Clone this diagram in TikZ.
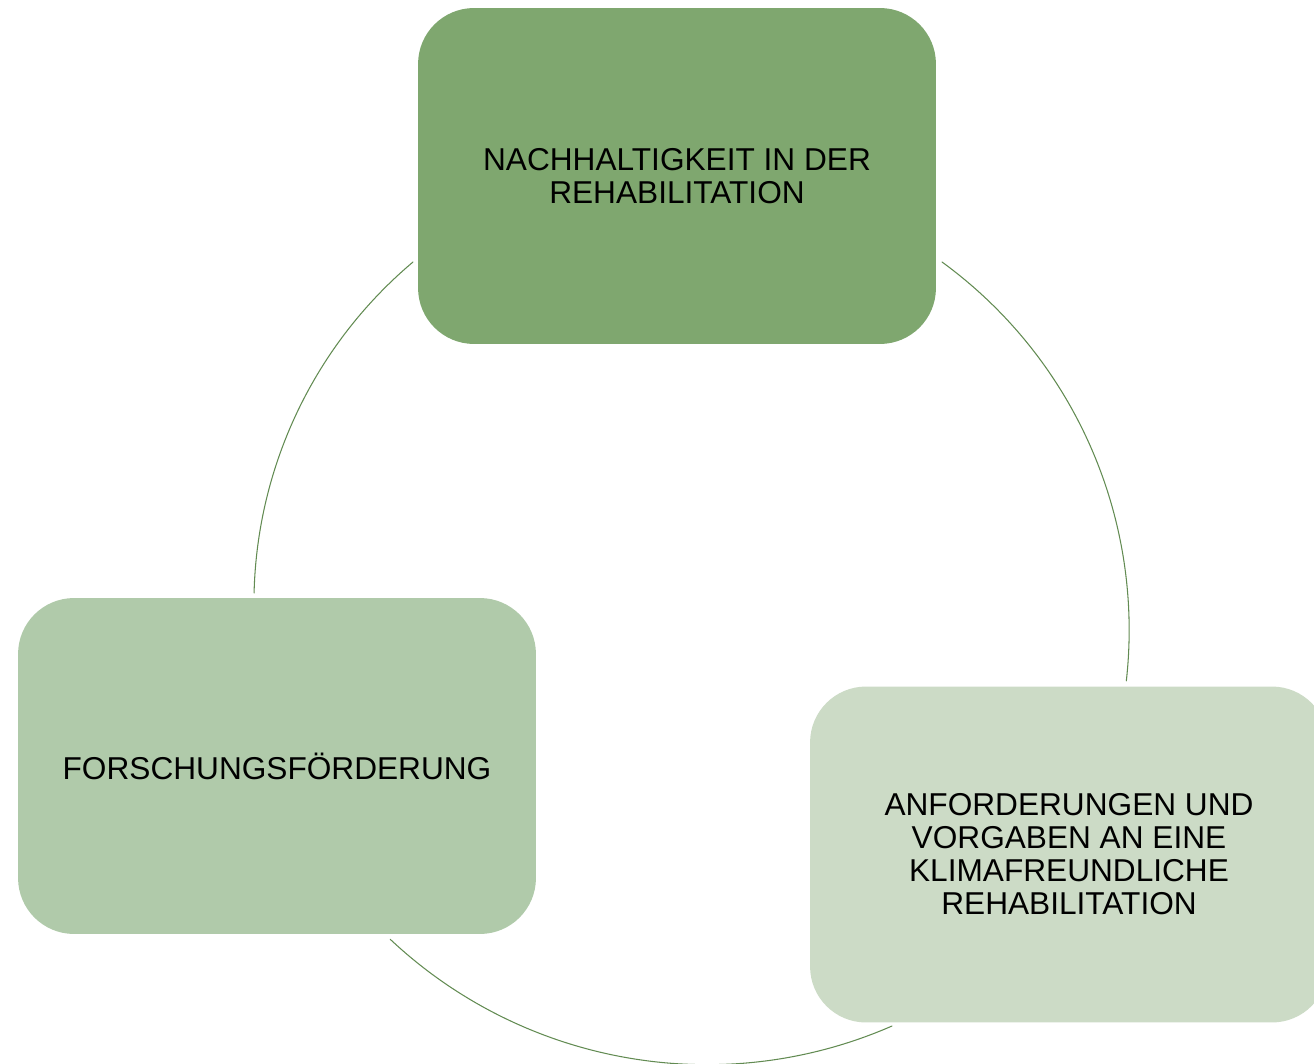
\documentclass[tikz,border=0pt]{standalone}
\usepackage{fontspec}
\setmainfont{Liberation Sans}
\definecolor{boxdark}{RGB}{127,167,111}
\definecolor{boxmid}{RGB}{176,202,170}
\definecolor{boxlight}{RGB}{204,219,198}
\definecolor{ringline}{RGB}{98,139,82}
\tikzset{
  stage/.style={rounded corners=1.12cm, minimum width=10.36cm, minimum height=6.72cm,
    align=center, inner sep=0pt, font=\fontsize{18}{18.8}\selectfont},
  ring/.style={ringline, line width=0.6pt}
}
\begin{document}
\begin{tikzpicture}[x=0.02cm, y=-0.02cm, line cap=round]
    \useasboundingbox (0,0) rectangle (1314,1064);
    %\draw[dashed, line width=0.1pt, gray] (0,0) grid[step=100] (1314,1064);
    \node[stage, fill=boxdark] (nach) at (677,176) {NACHHALTIGKEIT IN DER\\REHABILITATION};
    \node[stage, fill=boxlight] (anf) at (1069,854.5) {ANFORDERUNGEN UND\\VORGABEN AN EINE\\KLIMAFREUNDLICHE\\REHABILITATION};
    \node[stage, fill=boxmid] (fors) at (277,766) {FORSCHUNGSFÖRDERUNG};
    % ring pieces between the boxes
    \coordinate (nachL) at (413,262);
    \coordinate (nachR) at (942,262);
    \coordinate (anfB) at (892,1026);
    \draw[ring] (nachR) arc[start angle=-53.9, end angle=6.4, radius=455.6];
    \draw[ring] (anfB) arc[start angle=66.4, end angle=133.2, radius=462.5];
    \draw[ring] (nachL) arc[start angle=-130.1, end angle=-178.6, radius=447];
\end{tikzpicture}
\end{document}
